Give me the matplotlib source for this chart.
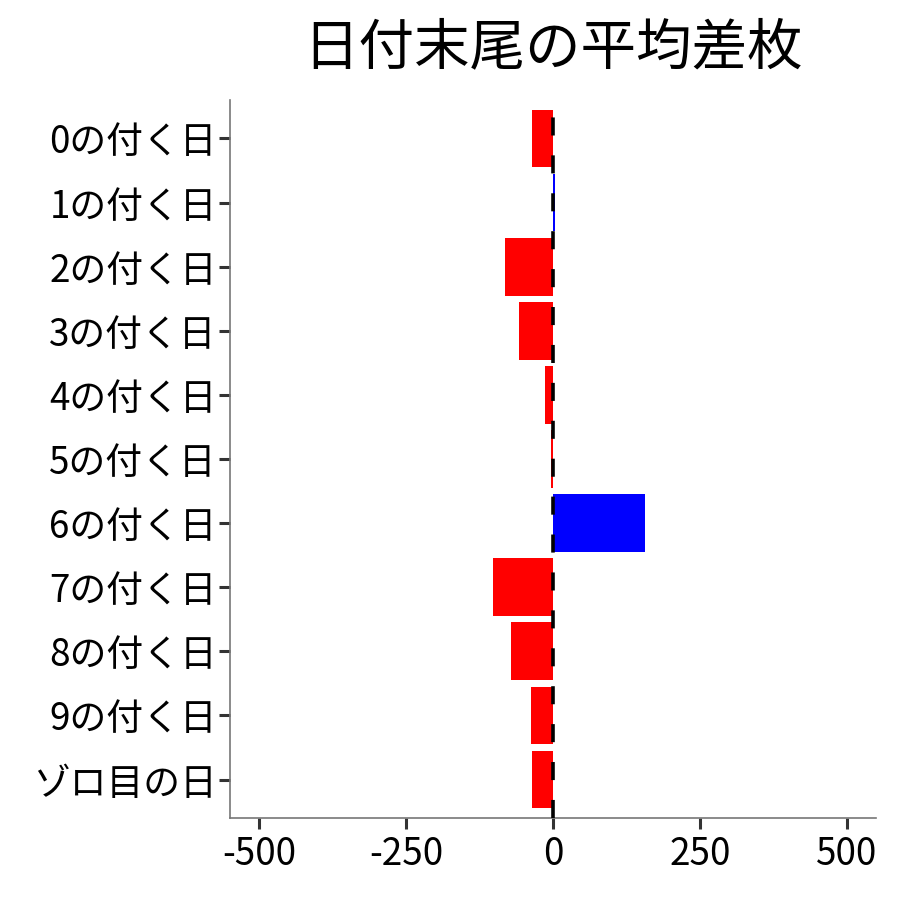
import matplotlib
matplotlib.use("Agg")
import matplotlib.pyplot as plt

plt.rcParams['font.family'] = ['Noto Sans CJK JP', 'DejaVu Sans']

# data
labels = ["0の付く日", "1の付く日", "2の付く日", "3の付く日", "4の付く日",
          "5の付く日", "6の付く日", "7の付く日", "8の付く日", "9の付く日", "ゾロ目の日"]
values = [-36, 3, -82, -58, -14, -4, 156, -103, -71, -37, -36]
xticks = [-500, -250, 0, 250, 500]

colors = ["#0000FF" if v > 0 else "#FF0000" for v in values]

fig = plt.figure(figsize=(9, 9), dpi=100)
ax = fig.add_axes([0.2556, 0.0911, 0.7177, 0.7978])

pos = list(range(len(labels)))
ax.barh(pos, values, height=0.9, color=colors, zorder=2)
ax.axvline(0, color="black", lw=2.6, linestyle=(0, (5, 5.5)), zorder=3)

ax.set_xlim(-550, 550)
ax.set_ylim(len(labels) - 0.4, -0.6)
ax.set_yticks(pos)
ax.set_yticklabels(labels)
ax.set_xticks(xticks)
ax.set_xticklabels([str(t) for t in xticks])

for s in ["top", "right"]:
    ax.spines[s].set_visible(False)
for s in ["left", "bottom"]:
    ax.spines[s].set_color("#777777")
    ax.spines[s].set_linewidth(1.2)

ax.tick_params(axis="both", labelsize=26.5, colors="#333333", length=8, width=2.2,
               labelcolor="black", pad=4)
ax.tick_params(axis="y", pad=1.5)

fig.suptitle("日付末尾の平均差枚", fontsize=40, x=0.614, y=0.978, va="top")

fig.savefig("out.png", dpi=100)
